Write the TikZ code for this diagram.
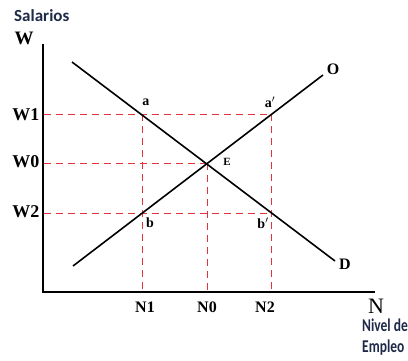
\documentclass[tikz,border=0pt]{standalone}
\usepackage{fontspec}
\setmainfont{Liberation Serif}
\newfontfamily\lblfont{Carlito}
\newfontfamily\lblfontc[FakeStretch=0.75]{Carlito}
\definecolor{dashred}{HTML}{E4333C}
\definecolor{navy}{HTML}{1E2A48}
\begin{document}
\begin{tikzpicture}[x=1pt,y=-1pt,
  axis/.style={line width=2pt,black},
  curve/.style={line width=1.6pt,black},
  guide/.style={dashred,line width=0.9pt,dash pattern=on 7pt off 5pt},
  lab/.style={font=\fontsize{18}{18}\selectfont\bfseries,inner sep=0pt},
  nlab/.style={font=\fontsize{16}{16}\selectfont\bfseries,inner sep=0pt},
  sub/.style={font=\fontsize{14}{14}\selectfont\bfseries,inner sep=0pt},
  side/.style={text=navy,inner sep=0pt,anchor=west}]
\useasboundingbox (0,0) rectangle (408,360);
% axes
\coordinate (O0) at (43,292);
\coordinate (Ytop) at (43,44);
\coordinate (Xend) at (375,292);
\draw[axis] (Ytop) -- (O0) -- (Xend);
% points
\coordinate (A) at (142,114);
\coordinate (Ap) at (271,114);
\coordinate (E) at (207,163);
\coordinate (B) at (142,213);
\coordinate (Bp) at (271,213);
\coordinate (W1) at (44,114);
\coordinate (W0) at (44,163);
\coordinate (W2) at (44,213);
\coordinate (N1) at (142,291);
\coordinate (N0) at (207,291);
\coordinate (N2) at (271,291);
% guides
\draw[guide] (W1) -- (Ap);
\draw[guide] (W0) -- (E);
\draw[guide] (W2) -- (Bp);
\draw[guide] (A) -- (N1);
\draw[guide] (E) -- (N0);
\draw[guide] (Ap) -- (N2);
% curves
\coordinate (Ds) at (72,62);
\coordinate (De) at (335,261);
\coordinate (Ss) at (73,266);
\coordinate (Se) at (323,75);
\draw[curve] (Ds) -- (De);
\draw[curve] (Ss) -- (Se);
% labels
\node[side,font=\lblfont\fontsize{17}{17}\selectfont\bfseries] (sal) at (14,16) {Salarios};
\node[lab,font=\fontsize{19}{19}\selectfont\bfseries] (wl) at (24,38) {W};
\node[lab] (w1l) at (26,115) {W1};
\node[lab] (w0l) at (26,162) {W0};
\node[lab] (w2l) at (26,212) {W2};
\node[nlab] (n1l) at (145,307) {N1};
\node[nlab] (n0l) at (207,307) {N0};
\node[nlab] (n2l) at (265,307) {N2};
\node[inner sep=0pt,font=\fontsize{22}{22}\selectfont] (nl) at (376,306) {N};
\node[side,font=\lblfontc\fontsize{18}{18}\selectfont\bfseries] (niv) at (362,325) {Nivel de};
\node[side,font=\lblfontc\fontsize{18}{18}\selectfont\bfseries] (emp) at (362,348) {Empleo};
\node[lab,font=\fontsize{16}{16}\selectfont\bfseries] (ol) at (333,69) {O};
\node[lab,font=\fontsize{16}{16}\selectfont\bfseries] (dl) at (345,264) {D};
\node[sub] (al) at (146,102) {a};
\node[sub] (apl) at (270,102) {a$'$};
\node[sub,font=\fontsize{11}{11}\selectfont\bfseries] (el) at (227,162) {E};
\node[sub] (bl) at (150,223) {b};
\node[sub] (bpl) at (263,223) {b$'$};
\end{tikzpicture}
\end{document}
